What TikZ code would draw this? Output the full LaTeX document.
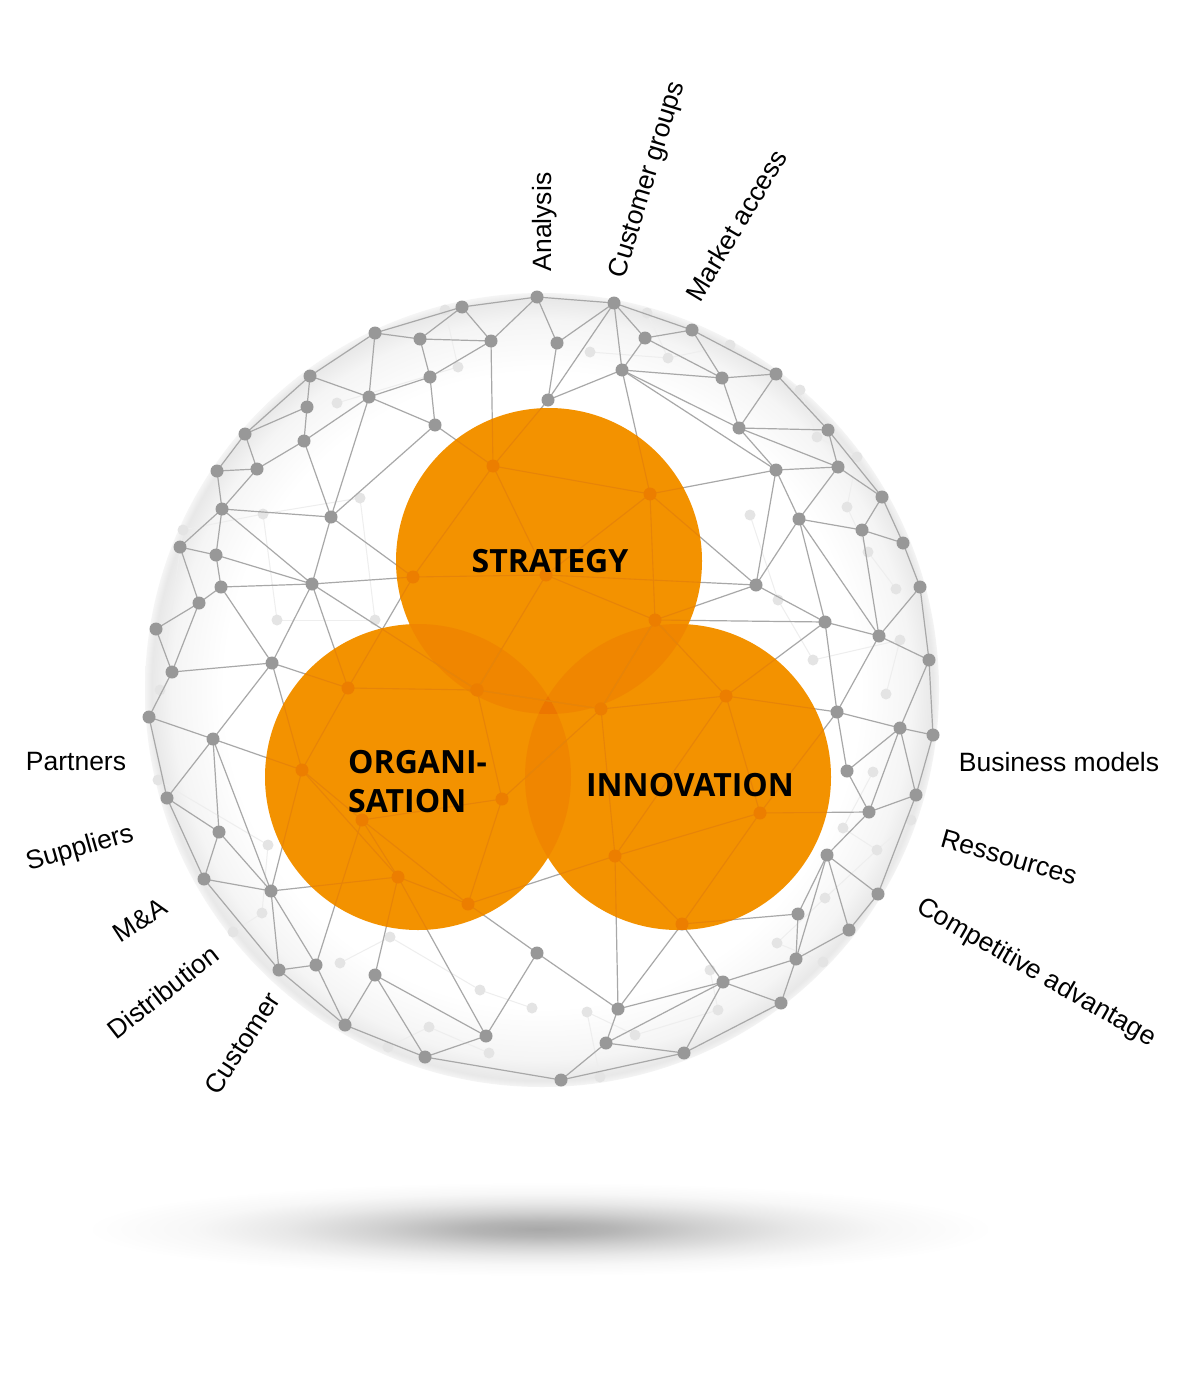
\documentclass[tikz,border=0pt]{standalone}
\usepackage{fontspec}
\setmainfont{Liberation Sans}
\newfontfamily\circfont{Open Sans}
\definecolor{orng}{RGB}{243,146,0}
\definecolor{orngdk}{RGB}{236,126,0}
\definecolor{orngln}{RGB}{231,132,8}
\definecolor{ovl}{RGB}{240,134,0}
\definecolor{ovlthree}{RGB}{236,118,0}
\definecolor{dotgray}{RGB}{152,152,152}
\definecolor{linegray}{RGB}{168,168,168}
\definecolor{faintdot}{RGB}{228,228,228}
\definecolor{faintline}{RGB}{238,238,238}
\pgfdeclareradialshading{sphereglow}{\pgfpoint{0bp}{0bp}}{color(0bp)=(white); color(20bp)=(white); color(23.3bp)=(black!4); color(24.6bp)=(black!9); color(25bp)=(black!4); color(50bp)=(white)}
\pgfdeclareradialshading{floorshadow}{\pgfpoint{0bp}{0bp}}{color(0bp)=(black!34); color(4bp)=(black!29); color(9bp)=(black!18); color(14bp)=(black!9); color(19bp)=(black!3); color(25bp)=(white); color(50bp)=(white)}
\tikzset{
  meshline/.style={draw=linegray, line width=1.2pt},
  orngline/.style={draw=orngln, line width=1.1pt},
  fline/.style={draw=faintline, line width=1pt},
  lbl/.style={font=\fontsize{26.5}{30}\selectfont, inner sep=0pt, text=black},
  ctxt/.style={font=\circfont\bfseries\fontsize{32}{39}\selectfont, inner sep=0pt, text=black},
  bigcirc/.style={circle, inner sep=0pt, minimum size=306pt, fill=orng}
}
\def\edgelist{1/2,1/3,1/6,1/7,2/7,2/8,2/9,2/13,2/19,3/4,3/5,3/6,4/5,4/10,4/11,5/6,5/12,6/12,7/19,6/76,
10/11,10/16,10/22,11/12,11/18,11/17,11/27,12/18,16/17,16/22,17/23,17/27,18/27,18/76,22/23,22/24,23/24,23/28,24/28,27/28,28/31,28/33,31/32,31/39,32/33,32/34,33/34,34/39,39/41,39/43,41/43,27/33,27/78,33/78,33/44,34/44,43/44,44/81,33/81,43/47,47/48,44/48,33/82,28/32,
8/9,8/13,8/14,9/14,9/15,13/14,13/19,13/77,13/25,13/20,14/15,14/20,15/20,15/21,20/21,20/25,20/26,21/26,21/30,25/26,25/29,25/37,25/77,26/29,26/30,29/35,30/35,30/36,35/36,29/37,29/40,29/42,35/42,36/38,37/40,37/77,37/79,37/80,40/80,40/42,38/42,42/45,38/45,40/84,42/46,40/46,45/50,19/76,76/77,
47/52,48/85,48/52,48/57,48/53,52/53,52/56,53/56,53/57,56/57,57/90,56/62,57/62,57/63,62/63,62/69,63/69,63/87,64/90,64/69,64/72,64/70,69/72,72/70,90/70,91/65,65/70,72/75,44/85,85/57,
46/49,49/50,46/51,49/51,49/54,50/55,49/55,51/54,54/55,54/58,54/88,58/59,58/60,58/61,58/66,55/59,59/61,61/66,66/67,66/68,60/92,92/67,92/71,71/67,67/73,67/74,67/68,73/74,73/75,71/73,74/75,71/65,71/89,46/88,46/84,60/66,68/74,45/49,
76/78,76/79,77/79,77/80,78/79,78/81,79/80,79/82,80/83,80/84,82/83,81/82,81/85,82/86,83/84,83/89,84/88,84/89,85/87,85/90,87/90,87/91,86/91,86/87,90/91,88/89,88/92,89/92,83/86,89/91}
\def\faintedges{1/2,2/8,3/5,4/5,5/6,6/14,14/15,15/16,16/17,17/18,18/19,7/20,20/21,21/22,9/10,10/11,9/13,12/13,12/10,23/24,24/25,25/26,27/28,28/29,29/30,31/32,31/33,34/35,35/36,36/37,37/38,38/39,40/41,41/42,42/43,43/44,45/36,46/22,11/47}
\begin{document}
\begin{tikzpicture}[x=1pt,y=-1pt]
\useasboundingbox (0,0) rectangle (1200,1388);
\fill[white] (0,0) rectangle (1200,1388);
% floor shadow
\shade[shading=floorshadow] (540,1229) ellipse (455 and 47);
% sphere glow
\shade[shading=sphereglow] (542,690) circle (397);
% node coordinates
\foreach \n/\x/\y in {1/537/297,2/614/303,3/462/307,4/375/333,5/420/339,6/491/341,7/557/343,8/645/338,9/692/330,10/310/376,
11/369/397,12/430/377,13/622/370,14/722/378,15/776/374,16/307/407,17/304/441,18/435/425,19/548/400,20/739/428,
21/828/430,22/245/434,23/257/469,24/217/471,25/776/470,26/838/467,27/331/517,28/222/509,29/799/519,30/882/497,
31/180/547,32/216/555,33/312/584,34/221/587,35/862/530,36/903/543,37/756/585,38/920/587,39/199/603,40/825/622,
41/156/629,42/879/636,43/172/672,44/272/663,45/929/660,46/837/712,47/149/717,48/213/739,49/900/728,50/933/735,
51/847/771,52/167/798,53/219/832,54/869/812,55/916/795,56/204/879,57/271/891,58/827/855,59/878/894,60/798/914,
61/849/930,62/279/970,63/316/965,64/375/975,65/537/953,66/796/959,67/723/982,68/781/1003,69/345/1025,70/486/1036,
71/618/1009,72/425/1057,73/606/1043,74/684/1053,75/561/1080,
76/493/466,77/650/494,78/413/577,79/546/575,80/655/620,81/348/688,82/477/690,83/601/709,84/726/696,85/302/770,
86/502/799,87/362/820,88/760/813,89/615/856,90/398/877,91/468/904,92/682/924}
  \coordinate (a\n) at (\x,\y);
\foreach \n/\x/\y in {1/445/310,2/458/367,3/590/352,4/647/313,5/668/358,6/730/345,7/750/515,8/337/403,9/360/498,10/263/514,
11/183/530,12/277/620,13/375/620,14/800/390,15/817/437,16/857/457,17/847/507,18/868/552,19/896/589,20/778/600,
21/813/660,22/900/640,23/158/780,24/268/845,25/262/913,26/233/932,27/340/963,28/390/937,29/480/990,30/532/1008,
31/429/1027,32/388/1047,33/489/1053,34/873/772,35/843/828,36/877/850,37/825/898,38/777/943,39/823/962,40/710/970,
41/718/1010,42/635/1035,43/587/1012,44/600/1077,45/911/820,46/886/694,47/160/690}
  \coordinate (f\n) at (\x,\y);
% faint back mesh
\foreach \p/\q in \faintedges \draw[fline] (f\p) -- (f\q);
\foreach \n in {1,...,47} \fill[faintdot] (f\n) circle (5.5);
% front mesh
\foreach \p/\q in \edgelist \draw[meshline] (a\p) -- (a\q);
\foreach \n in {1,...,92} \fill[dotgray] (a\n) circle (6.5);
% three circles
\node[bigcirc] (S) at (549,561) {};
\node[bigcirc] (O) at (418,777) {};
\node[bigcirc] (I) at (678,777) {};
% overlaps
\begin{scope}\clip (549,561) circle (153); \fill[ovl] (418,777) circle (153); \fill[ovl] (678,777) circle (153);\end{scope}
\begin{scope}\clip (418,777) circle (153); \fill[ovl] (678,777) circle (153);\end{scope}
\begin{scope}\clip (549,561) circle (153); \clip (418,777) circle (153); \fill[ovlthree] (678,777) circle (153);\end{scope}
% mesh seen through circles
\foreach \cx/\cy in {549/561,418/777,678/777}{
  \begin{scope}
    \clip (\cx,\cy) circle (153);
    \foreach \p/\q in \edgelist \draw[orngline] (a\p) -- (a\q);
    \foreach \n in {1,...,92} \fill[orngdk] (a\n) circle (6.5);
  \end{scope}
}
% circle labels
\node[ctxt] (tS) at (550,561) {STRATEGY};
\node[ctxt, align=left, anchor=west] (tO) at (348,782) {ORGANI-\\SATION};
\node[ctxt] (tI) at (690,785) {INNOVATION};
% outer labels
\node[lbl, rotate=90] (tAnalysis) at (545,222) {Analysis};
\node[lbl, rotate=73] (tCG) at (648,180) {Customer groups};
\node[lbl, rotate=59] (tMAc) at (736,225) {Market access};
\node[lbl] (tPartners) at (76,762) {Partners};
\node[lbl, rotate=16] (tSup) at (80,849) {Suppliers};
\node[lbl, rotate=33] (tMnA) at (140,920) {M\&A};
\node[lbl, rotate=38] (tDist) at (163,992) {Distribution};
\node[lbl, rotate=57] (tCust) at (242,1043) {Customer};
\node[lbl] (tBM) at (1059,762) {Business models};
\node[lbl, rotate=-16] (tRes) at (1009,857) {Ressources};
\node[lbl, rotate=-30] (tCA) at (1036,973) {Competitive advantage};
\end{tikzpicture}
\end{document}
